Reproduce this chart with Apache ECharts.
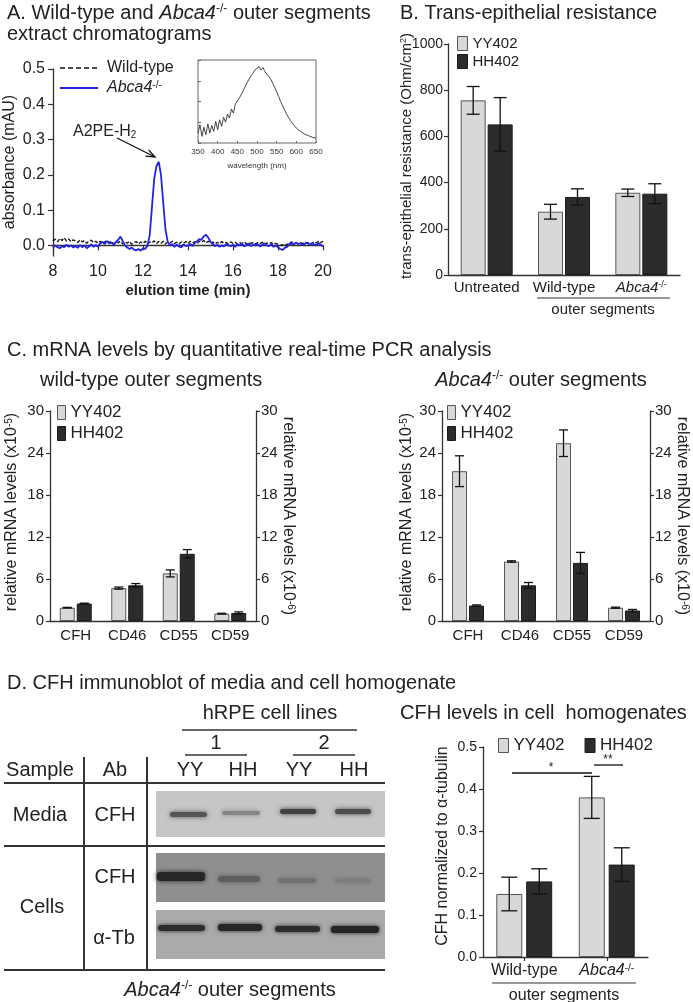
<!DOCTYPE html>
<html><head><meta charset="utf-8">
<script src="https://cdn.jsdelivr.net/npm/echarts@6/dist/echarts.min.js"></script>
<style>html,body{margin:0;padding:0;background:#fff}#c{width:693px;height:1002px}</style>
</head><body><div id="c"></div>
<script>
const FONT = '"Liberation Sans", Arial, sans-serif';
const TXT = '#222';
const AX = '#333';

// ---------- Panel A: chromatograms ----------
const aTime = [
 8.0,8.1,8.2,8.3,8.4,8.5,8.6,8.7,8.8,8.9,
 9.0,9.1,9.2,9.3,9.4,9.5,9.6,9.7,9.8,9.9,
 10.0,10.1,10.2,10.3,10.4,10.5,10.6,10.7,10.8,10.9,
 11.0,11.1,11.2,11.3,11.4,11.5,11.6,11.7,11.8,11.9,
 12.0,12.1,12.2,12.3,12.4,12.5,12.6,12.7,12.8,12.9,
 13.0,13.1,13.2,13.3,13.4,13.5,13.6,13.7,13.8,13.9,
 14.0,14.1,14.2,14.3,14.4,14.5,14.6,14.7,14.8,14.9,
 15.0,15.1,15.2,15.3,15.4,15.5,15.6,15.7,15.8,15.9,
 16.0,16.1,16.2,16.3,16.4,16.5,16.6,16.7,16.8,16.9,
 17.0,17.1,17.2,17.3,17.4,17.5,17.6,17.7,17.8,17.9,
 18.0,18.1,18.2,18.3,18.4,18.5,18.6,18.7,18.8,18.9,
 19.0,19.1,19.2,19.3,19.4,19.5,19.6,19.7,19.8,19.9,
 20.0];
const aWildType = [
 0.012,0.018,0.010,0.020,0.014,0.022,0.012,0.018,0.010,0.016,
 0.012,0.008,0.016,0.010,0.014,0.006,0.012,0.015,0.008,0.012,
 0.006,0.012,0.004,0.010,0.014,0.008,0.012,0.004,0.010,0.008,
 0.012,0.004,0.010,0.006,0.012,0.003,0.008,0.011,0.004,0.010,
 0.006,0.012,0.004,0.010,0.007,0.013,0.005,0.011,0.006,0.012,
 0.004,0.010,0.007,0.012,0.005,0.009,0.004,0.010,0.006,0.011,
 0.005,0.012,0.008,0.010,0.004,0.012,0.009,0.014,0.007,0.012,
 0.006,0.010,0.004,0.009,0.005,0.011,0.006,0.009,0.004,0.010,
 0.006,0.009,0.003,0.008,0.005,0.010,0.004,0.008,0.006,0.009,
 0.004,0.008,0.005,0.009,0.003,0.007,0.004,0.008,0.002,0.006,
 0.003,0.000,0.002,-0.002,0.004,0.001,0.006,0.003,0.007,0.004,
 0.008,0.005,0.010,0.006,0.009,0.004,0.010,0.007,0.012,0.008,
 0.012];
const aAbca4 = [
 -0.006,0.000,-0.005,-0.008,-0.002,-0.005,0.002,-0.004,0.000,-0.006,
 -0.002,-0.007,0.001,-0.005,0.000,-0.008,-0.003,0.003,-0.004,0.001,
 -0.004,0.006,0.010,0.004,0.012,0.006,0.008,0.002,0.010,0.016,
 0.025,0.012,0.000,-0.006,-0.010,-0.006,-0.012,-0.014,-0.010,-0.015,
 -0.008,-0.010,0.000,0.030,0.110,0.190,0.225,0.237,0.200,0.120,
 0.045,0.010,0.000,0.004,-0.004,0.002,-0.003,-0.006,0.003,-0.002,
 0.000,0.004,-0.002,0.008,0.012,0.018,0.016,0.026,0.030,0.022,
 0.010,0.004,-0.002,0.002,-0.004,0.000,-0.003,0.004,0.000,-0.002,
 0.002,-0.004,0.004,0.000,0.006,-0.003,0.002,0.005,-0.002,0.003,
 0.000,0.004,-0.003,0.002,0.006,0.000,-0.002,0.003,-0.004,0.000,
 -0.005,-0.010,-0.013,-0.007,-0.004,0.004,0.010,0.002,0.008,0.004,
 0.006,0.000,0.005,0.008,0.002,0.006,0.003,0.000,0.007,0.002,
 -0.003];
const aYTicks = [0, 0.1, 0.2, 0.3, 0.4, 0.5];
const insetWavelength = [
 350,355,360,365,370,375,380,385,390,395,400,405,410,415,420,425,430,435,440,445,
 450,455,460,465,470,475,480,485,490,495,500,505,510,515,520,525,530,535,540,545,
 550,555,560,565,570,575,580,585,590,595,600,605,610,615,620,625,630,635,640,645,650];
const insetAbsorbance = [
 0.12,0.22,0.08,0.19,0.10,0.23,0.12,0.21,0.14,0.26,0.16,0.28,0.20,0.31,0.25,0.35,0.30,0.41,0.36,0.47,
 0.45,0.54,0.55,0.63,0.65,0.73,0.74,0.81,0.82,0.88,0.87,0.92,0.88,0.91,0.86,0.85,0.80,0.77,0.72,0.67,
 0.62,0.56,0.50,0.45,0.40,0.35,0.31,0.27,0.24,0.21,0.18,0.16,0.14,0.13,0.11,0.10,0.09,0.08,0.07,0.07,0.06];

// ---------- Panel B: trans-epithelial resistance ----------
const bCategories = ['Untreated', 'Wild-type', 'Abca4-/-'];
const bYY = [756, 274, 356];
const bYYErr = [60, 32, 16];
const bHH = [652, 338, 352];
const bHHErr = [116, 35, 43];

// ---------- Panel C: qPCR ----------
const cCategories = ['CFH', 'CD46', 'CD55', 'CD59'];
const cWtYY = [1.9, 4.7, 6.8, 1.05];
const cWtYYErr = [0.05, 0.15, 0.5, 0.05];
const cWtHH = [2.5, 5.1, 9.6, 1.15];
const cWtHHErr = [0.05, 0.25, 0.6, 0.15];
const cKoYY = [21.4, 8.5, 25.4, 1.9];
const cKoYYErr = [2.2, 0.1, 1.9, 0.08];
const cKoHH = [2.2, 5.1, 8.3, 1.5];
const cKoHHErr = [0.1, 0.4, 1.5, 0.15];

// ---------- Panel D: CFH levels ----------
const dCategories = ['Wild-type', 'Abca4-/-'];
const dYY = [0.15, 0.38];
const dYYErr = [0.04, 0.05];
const dHH = [0.18, 0.22];
const dHHErr = [0.03, 0.04];

const YY_FILL = '#d8d8d8', YY_LINE = '#555';
const HH_FILL = '#2c2c2c', HH_LINE = '#1a1a1a';

function richFor(size) {
  const s = Math.round(size * 0.62);
  return {
    i: {fontStyle: 'italic', fontSize: size, fontFamily: FONT, color: TXT, fill: TXT},
    sup: {fontSize: s, fontFamily: FONT, color: TXT, fill: TXT, verticalAlign: 'top'},
    sub: {fontSize: s, fontFamily: FONT, color: TXT, fill: TXT, verticalAlign: 'bottom'}
  };
}
const fmtAbca = v => v === 'Abca4-/-' ? '{i|Abca4}{sup|-/-}' : v;

function T(text, x, y, size, o = {}) {
  return {type: 'text', x, y, rotation: o.rot || 0, z: 100, silent: true,
    style: {text, fontSize: size, fontFamily: FONT, fontWeight: o.bold ? 'bold' : 'normal',
      fontStyle: o.italic ? 'italic' : 'normal', fill: o.color || TXT,
      align: o.align || 'left', verticalAlign: 'middle', rich: richFor(size)}};
}
function L(x1, y1, x2, y2, w = 1, c = AX, dash) {
  const style = {stroke: c, lineWidth: w};
  if (dash) style.lineDash = dash;
  return {type: 'line', z: 100, silent: true, shape: {x1, y1, x2, y2}, style};
}
function R(x, y, w, h, fill, blur = 0) {
  return {type: 'rect', z: 90, silent: true, shape: {x, y, width: w, height: h, r: blur ? 3 : 0},
    style: {fill, shadowBlur: blur, shadowColor: fill}};
}

function valueAxis(grid, min, max, interval, size, extra = {}) {
  return Object.assign({type: 'value', gridIndex: grid, min, max, interval,
    axisLine: {show: true, lineStyle: {color: AX, width: 1.3}},
    axisTick: {show: true, length: 4, lineStyle: {color: AX, width: 1.2}},
    axisLabel: {fontSize: size, fontFamily: FONT, color: TXT, margin: 6, formatter: v => String(v)},
    splitLine: {show: false}}, extra);
}
function catAxis(grid, data, size, margin, tick) {
  return {type: 'category', gridIndex: grid, data,
    axisLine: {show: true, lineStyle: {color: AX, width: 1.3}},
    axisTick: {show: !!tick, alignWithLabel: true, interval: 0, length: 4, lineStyle: {color: AX, width: 1.2}},
    axisLabel: {fontSize: size, fontFamily: FONT, color: TXT, margin, interval: 0, hideOverlap: false,
      formatter: fmtAbca, rich: richFor(size)},
    splitLine: {show: false}};
}
function bar(name, xi, yi, data, bw, gap) {
  const yy = name === 'YY402';
  return {type: 'bar', name, xAxisIndex: xi, yAxisIndex: yi, data, barWidth: bw, barGap: gap,
    itemStyle: {color: yy ? YY_FILL : HH_FILL, borderColor: yy ? YY_LINE : HH_LINE, borderWidth: 1}};
}
function errBars(xi, yi, vals, errs, offset, half) {
  return {type: 'custom', xAxisIndex: xi, yAxisIndex: yi, z: 10, silent: true,
    data: vals.map((v, i) => [i, v - errs[i], v + errs[i]]),
    encode: {x: 0, y: [1, 2]},
    renderItem(params, api) {
      const lo = api.coord([api.value(0), api.value(1)]);
      const hi = api.coord([api.value(0), api.value(2)]);
      const x = lo[0] + offset;
      const st = {stroke: '#111', lineWidth: 1.3};
      return {type: 'group', children: [
        {type: 'line', shape: {x1: x, y1: lo[1], x2: x, y2: hi[1]}, style: st},
        {type: 'line', shape: {x1: x - half, y1: lo[1], x2: x + half, y2: lo[1]}, style: st},
        {type: 'line', shape: {x1: x - half, y1: hi[1], x2: x + half, y2: hi[1]}, style: st}
      ]};
    }};
}
function legendBox(left, top, orient, fs, iw, gap) {
  return {data: ['YY402', 'HH402'], left, top, orient, padding: 0, selectedMode: false,
    icon: 'rect', itemWidth: iw, itemHeight: 14, itemGap: gap,
    itemStyle: {borderWidth: 1},
    textStyle: {fontSize: fs, fontFamily: FONT, color: TXT}};
}

const option = {
  animation: false,
  backgroundColor: '#fff',
  textStyle: {fontFamily: FONT},
  grid: [
    {left: 53, top: 69, width: 270, height: 187, outerBoundsMode: 'none'},
    {left: 198, top: 60, width: 118, height: 83, show: true, borderColor: '#666', borderWidth: 1, outerBoundsMode: 'none'},
    {left: 448, top: 44, width: 232, height: 231, outerBoundsMode: 'none'},
    {left: 50, top: 411, width: 206, height: 210, outerBoundsMode: 'none'},
    {left: 442, top: 411, width: 208, height: 210, outerBoundsMode: 'none'},
    {left: 483, top: 747, width: 165, height: 210, outerBoundsMode: 'none'}
  ],
  xAxis: [
    valueAxis(0, 8, 20, 2, 16, {axisTick: {show: true, length: 5, lineStyle: {color: AX, width: 1.2}},
      axisLabel: {fontSize: 16, fontFamily: FONT, color: TXT, margin: 8}}),
    valueAxis(1, 350, 650, 50, 8, {axisLine: {show: false},
      axisTick: {show: true, inside: true, length: 2, lineStyle: {color: '#666'}},
      axisLabel: {fontSize: 8, fontFamily: FONT, color: '#333', margin: 5}}),
    catAxis(2, bCategories, 15, 5, false),
    catAxis(3, cCategories, 15, 7, false),
    catAxis(4, cCategories, 15, 7, false),
    catAxis(5, dCategories, 16, 6, true)
  ],
  yAxis: [
    valueAxis(0, -0.03, 0.5, null, 16, {
      axisTick: {show: true, length: 5, customValues: aYTicks, lineStyle: {color: AX, width: 1.2}},
      axisLabel: {fontSize: 16, fontFamily: FONT, color: TXT, margin: 8, customValues: aYTicks, formatter: v => v.toFixed(1)}}),
    valueAxis(1, 0, 1, 0.25, 8, {axisLine: {show: false}, axisLabel: {show: false},
      axisTick: {show: true, inside: true, length: 3, lineStyle: {color: '#666'}}}),
    valueAxis(2, 0, 1000, 200, 14, {axisLabel: {fontSize: 14, fontFamily: FONT, color: TXT, margin: 5, formatter: v => String(v)}}),
    valueAxis(3, 0, 30, 6, 15, {axisLabel: {fontSize: 15, fontFamily: FONT, color: TXT, margin: 6}}),
    valueAxis(3, 0, 30, 6, 15, {position: 'right', axisLabel: {fontSize: 15, fontFamily: FONT, color: TXT, margin: 5}}),
    valueAxis(4, 0, 30, 6, 15, {axisLabel: {fontSize: 15, fontFamily: FONT, color: TXT, margin: 6}}),
    valueAxis(4, 0, 30, 6, 15, {position: 'right', axisLabel: {fontSize: 15, fontFamily: FONT, color: TXT, margin: 5}}),
    valueAxis(5, 0, 0.5, 0.1, 14, {axisLabel: {fontSize: 14, fontFamily: FONT, color: TXT, margin: 6, formatter: v => v.toFixed(1)}})
  ],
  legend: [
    legendBox(457, 36, 'vertical', 15, 10, 3),
    legendBox(57, 404, 'vertical', 17, 8, 4),
    legendBox(447, 404, 'vertical', 17, 8, 4),
    legendBox(498, 737, 'horizontal', 17, 10, 20)
  ],
  series: [
    {type: 'line', name: 'Wild-type', xAxisIndex: 0, yAxisIndex: 0, symbol: 'none', z: 3,
     data: aTime.map((t, i) => [t, aWildType[i]]),
     lineStyle: {color: '#111', width: 1.3, type: [4, 2]}, itemStyle: {color: '#111'}},
    {type: 'line', name: 'Abca4-/-', xAxisIndex: 0, yAxisIndex: 0, symbol: 'none', z: 4,
     data: aTime.map((t, i) => [t, aAbca4[i]]),
     lineStyle: {color: '#2323e8', width: 1.8}, itemStyle: {color: '#2323e8'}},
    {type: 'line', name: 'spectrum', xAxisIndex: 1, yAxisIndex: 1, symbol: 'none',
     data: insetWavelength.map((w, i) => [w, insetAbsorbance[i]]),
     lineStyle: {color: '#333', width: 0.9}},

    bar('YY402', 2, 2, bYY, 25, '8%'),
    bar('HH402', 2, 2, bHH, 25, '8%'),
    errBars(2, 2, bYY, bYYErr, -13.5, 6.5),
    errBars(2, 2, bHH, bHHErr, 13.5, 6.5),

    bar('YY402', 3, 3, cWtYY, 15, '13%'),
    bar('HH402', 3, 3, cWtHH, 15, '13%'),
    errBars(3, 3, cWtYY, cWtYYErr, -8.5, 4.5),
    errBars(3, 3, cWtHH, cWtHHErr, 8.5, 4.5),

    bar('YY402', 4, 5, cKoYY, 15, '13%'),
    bar('HH402', 4, 5, cKoHH, 15, '13%'),
    errBars(4, 5, cKoYY, cKoYYErr, -8.5, 4.5),
    errBars(4, 5, cKoHH, cKoHHErr, 8.5, 4.5),

    bar('YY402', 5, 7, dYY, 26, '15%'),
    bar('HH402', 5, 7, dHH, 26, '15%'),
    errBars(5, 7, dYY, dYYErr, -15, 8),
    errBars(5, 7, dHH, dHHErr, 15, 8)
  ],
  graphic: [
    // titles
    T('A. Wild-type and {i|Abca4}{sup|-/-} outer segments', 7, 13, 20),
    T('extract chromatograms', 7, 34, 20),
    T('B. Trans-epithelial resistance', 400, 13, 20),
    T('C. mRNA levels by quantitative real-time PCR analysis', 7, 350, 20),
    T('wild-type outer segments', 40, 380, 20),
    T('{i|Abca4}{sup|-/-} outer segments', 541, 380, 20, {align: 'center'}),
    T('D. CFH immunoblot of media and cell homogenate', 7, 683, 20),
    T('CFH levels in cell  homogenates', 400, 713, 20),

    // panel A legend and annotations
    L(60, 68, 98, 68, 1.4, '#111', [5, 3]),
    T('Wild-type', 107, 68, 16),
    L(60, 88, 98, 88, 1.8, '#2323e8'),
    T('{i|Abca4}{sup|-/-}', 107, 88, 16),
    T('absorbance (mAU)', 10, 162, 16, {rot: Math.PI / 2, align: 'center'}),
    T('elution time (min)', 188, 291, 15, {bold: true, align: 'center'}),
    T('wavelength (nm)', 257, 166, 8, {align: 'center', color: '#333'}),
    T('A2PE-H{sub|2}', 73, 132, 16),
    L(117, 138, 155, 157, 1.3, '#111'),
    {type: 'polyline', z: 100, silent: true, shape: {points: [[145.4, 156.1], [155, 157], [148.6, 149.9]]},
     style: {stroke: '#111', lineWidth: 1.3, fill: null}},

    // panel B annotations
    T('trans-epithelial resistance (Ohm/cm{sup|2})', 407, 156, 15, {rot: Math.PI / 2, align: 'center'}),
    L(537, 298, 670, 298, 1.2),
    T('outer segments', 603, 310, 15, {align: 'center'}),

    // panel C axis names
    T('relative mRNA levels (x10{sup|-5})', 12, 512, 16, {rot: Math.PI / 2, align: 'center'}),
    T('relative mRNA levels (x10{sup|-6})', 288, 516, 16, {rot: -Math.PI / 2, align: 'center'}),
    T('relative mRNA levels (x10{sup|-5})', 407, 512, 16, {rot: Math.PI / 2, align: 'center'}),
    T('relative mRNA levels (x10{sup|-6})', 682, 516, 16, {rot: -Math.PI / 2, align: 'center'}),

    // panel D chart annotations
    T('CFH normalized to α-tubulin', 443, 846, 16, {rot: Math.PI / 2, align: 'center'}),
    L(512, 773, 592, 773, 1.3, '#111'),
    T('*', 551, 768, 12, {align: 'center'}),
    L(594, 765, 623, 765, 1.3, '#111'),
    T('**', 608, 760, 12, {align: 'center'}),
    L(492, 983, 636, 983, 1.2),
    T('outer segments', 564, 996, 16, {align: 'center'}),

    // panel D blot table
    T('hRPE cell lines', 270, 713, 20, {align: 'center'}),
    L(182, 730, 357, 730, 1.5),
    T('1', 216, 743, 20, {align: 'center'}),
    T('2', 324, 743, 20, {align: 'center'}),
    L(185, 755, 247, 755, 1.5),
    L(293, 755, 355, 755, 1.5),
    T('Sample', 40, 770, 20, {align: 'center'}),
    T('Ab', 115, 770, 20, {align: 'center'}),
    T('YY', 190, 770, 20, {align: 'center'}),
    T('HH', 243, 770, 20, {align: 'center'}),
    T('YY', 299, 770, 20, {align: 'center'}),
    T('HH', 354, 770, 20, {align: 'center'}),
    L(4, 783, 385, 783, 2),
    L(4, 846, 385, 846, 2),
    L(4, 970, 385, 970, 2),
    L(84, 757, 84, 970, 2),
    L(147, 757, 147, 970, 2),
    T('Media', 40, 815, 20, {align: 'center'}),
    T('CFH', 115, 815, 20, {align: 'center'}),
    T('CFH', 115, 877, 20, {align: 'center'}),
    T('Cells', 42, 907, 20, {align: 'center'}),
    T('α-Tb', 114, 938, 20, {align: 'center'}),
    T('{i|Abca4}{sup|-/-} outer segments', 230, 990, 20, {align: 'center'}),

    // blot images (drawn)
    R(156, 791, 229, 46, '#c6c6c6'),
    R(170, 812, 37, 5, '#555555', 5),
    R(222, 811, 38, 4, '#858585', 5),
    R(280, 809, 36, 5, '#404040', 5),
    R(335, 809, 36, 5, '#4c4c4c', 5),
    R(156, 853, 229, 49, '#8f8f8f'),
    R(157, 872, 48, 9, '#262626', 5),
    R(218, 876, 42, 6, '#5e5e5e', 5),
    R(278, 878, 38, 5, '#717171', 5),
    R(335, 878, 36, 5, '#7e7e7e', 5),
    R(156, 910, 229, 49, '#aaaaaa'),
    R(158, 925, 47, 6, '#2c2c2c', 4),
    R(218, 924, 44, 7, '#262626', 4),
    R(275, 926, 45, 6, '#2c2c2c', 4),
    R(331, 926, 48, 7, '#242424', 4)
  ]
};
const chart = echarts.init(document.getElementById('c'));
chart.setOption(option);
</script></body></html>
